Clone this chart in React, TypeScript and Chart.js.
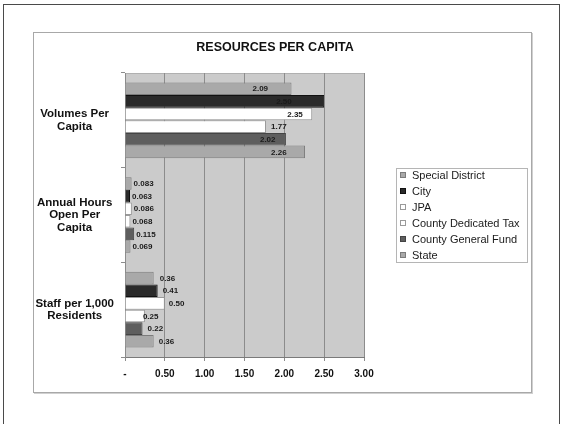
import React, { useEffect, useRef } from "react";
import { Chart, registerables } from "chart.js";

Chart.register(...registerables);

const chartTitle = "RESOURCES PER CAPITA";
const categories = [
  ["Volumes Per", "Capita"],
  ["Annual Hours", "Open Per", "Capita"],
  ["Staff per 1,000", "Residents"],
];
const seriesNames = [
  "Special District",
  "City",
  "JPA",
  "County Dedicated Tax",
  "County General Fund",
  "State",
];
const specialDistrict = [2.09, 0.083, 0.36];
const city = [2.5, 0.063, 0.41];
const jpa = [2.35, 0.086, 0.5];
const countyDedicatedTax = [1.77, 0.068, 0.25];
const countyGeneralFund = [2.02, 0.115, 0.22];
const state = [2.26, 0.069, 0.36];
const labelDecimals = [2, 3, 2];
const xMin = 0;
const xMax = 3;
const xStep = 0.5;

const seriesValues = [specialDistrict, city, jpa, countyDedicatedTax, countyGeneralFund, state];
const fills = ["#a9a9a9", "#2a2a2a", "#ffffff", "#ffffff", "#5e5e5e", "#a9a9a9"];
const borders = ["#7c7c7c", "#111111", "#9a9a9a", "#9a9a9a", "#444444", "#7c7c7c"];
// pixel shifts of value labels relative to bar end (style only)
const labelShift = [
  [-39, -48, -25, 5, -26, -34],
  [2, 2, 2, 2, 2, 2],
  [6, 5, 4, -2, 5, 5],
];

const FONT = "'Liberation Sans', Arial, sans-serif";

const decorPlugin = {
  id: "decor",
  beforeDraw(chart: any) {
    const { ctx, chartArea } = chart;
    ctx.save();
    ctx.fillStyle = "#cbcbcb";
    ctx.fillRect(chartArea.left, chartArea.top, chartArea.right - chartArea.left, chartArea.bottom - chartArea.top);
    ctx.strokeStyle = "#b0b0b0";
    ctx.lineWidth = 1;
    ctx.beginPath();
    ctx.moveTo(chartArea.left, chartArea.top + 0.5);
    ctx.lineTo(chartArea.right, chartArea.top + 0.5);
    ctx.stroke();
    ctx.restore();
  },
  afterDraw(chart: any) {
    const { ctx } = chart;
    ctx.save();
    // title
    ctx.fillStyle = "#111";
    ctx.font = `bold 12.5px ${FONT}`;
    ctx.textAlign = "center";
    ctx.textBaseline = "middle";
    ctx.fillText(chartTitle, 241, 15);

    // value labels
    ctx.font = `bold 8px ${FONT}`;
    ctx.textAlign = "left";
    ctx.fillStyle = "#1a1a1a";
    chart.data.datasets.forEach((ds: any, di: number) => {
      const meta = chart.getDatasetMeta(di);
      meta.data.forEach((bar: any, ci: number) => {
        const v = ds.data[ci];
        const txt = v.toFixed(labelDecimals[ci]);
        ctx.fillText(txt, bar.x + labelShift[ci][di], bar.y + 0.5);
      });
    });

    // legend
    const lx = 362, ly = 135, lw = 131, lh = 94;
    ctx.fillStyle = "#ffffff";
    ctx.fillRect(lx, ly, lw, lh);
    ctx.strokeStyle = "#b5b5b5";
    ctx.lineWidth = 1;
    ctx.strokeRect(lx + 0.5, ly + 0.5, lw, lh);
    ctx.font = `11px ${FONT}`;
    ctx.textBaseline = "middle";
    chart.data.datasets.forEach((ds: any, i: number) => {
      const cy = 142 + i * 16;
      ctx.fillStyle = ds.backgroundColor;
      ctx.fillRect(366, cy - 3, 6, 6);
      ctx.strokeStyle = ds.borderColor;
      ctx.strokeRect(366.5, cy - 2.5, 5, 5);
      ctx.fillStyle = "#1a1a1a";
      ctx.fillText(ds.label, 378, cy + 0.5);
    });
    ctx.restore();
  },
};

export default function App() {
  const canvasRef = useRef<HTMLCanvasElement | null>(null);

  useEffect(() => {
    document.body.style.margin = "0";
    document.body.style.overflow = "hidden";
    const canvas = canvasRef.current;
    if (!canvas) return;
    const chart = new Chart(canvas, {
      type: "bar",
      data: {
        labels: categories,
        datasets: seriesNames.map((name, i) => ({
          label: name,
          data: seriesValues[i],
          backgroundColor: fills[i],
          borderColor: borders[i],
          borderWidth: 1,
          categoryPercentage: 0.8,
          barPercentage: 1.0,
        })),
      },
      options: {
        indexAxis: "y",
        animation: false,
        responsive: false,
        maintainAspectRatio: false,
        devicePixelRatio: 1,
        layout: { padding: { top: 40, right: 167, bottom: 0, left: 0 } },
        plugins: {
          legend: { display: false },
          title: { display: false },
          tooltip: { enabled: false },
        },
        scales: {
          x: {
            type: "linear",
            min: xMin,
            max: xMax,
            ticks: {
              stepSize: xStep,
              padding: 7,
              color: "#111",
              font: { family: FONT, size: 10, weight: "bold" },
              callback: (v: any) => (Number(v) === 0 ? "-" : Number(v).toFixed(2)),
            },
            grid: { color: "#8c8c8c", tickColor: "#8c8c8c", tickLength: 4, lineWidth: 1 },
            border: { color: "#7a7a7a" },
            afterFit: (scale: any) => {
              scale.height = 35;
            },
          },
          y: {
            type: "category",
            ticks: {
              crossAlign: "center",
              padding: 7,
              color: "#111",
              font: { family: FONT, size: 11.5, weight: "bold", lineHeight: 1.1 },
            },
            grid: { color: "rgba(0,0,0,0)", tickColor: "#8c8c8c", tickLength: 4, drawOnChartArea: false },
            border: { color: "#8c8c8c" },
            afterFit: (scale: any) => {
              scale.width = 91;
            },
          },
        },
      } as any,
      plugins: [decorPlugin],
    });
    return () => chart.destroy();
  }, []);

  return (
    <div style={{ position: "absolute", left: 0, top: 0, width: 564, height: 424, background: "#fff", overflow: "hidden" }}>
      <div
        style={{
          position: "absolute",
          left: 3,
          top: 4,
          width: 557,
          height: 430,
          border: "1px solid #4a4a4a",
          boxSizing: "border-box",
        }}
      />
      <div
        style={{
          position: "absolute",
          left: 33,
          top: 32,
          width: 499,
          height: 361,
          border: "1px solid #a8a8a8",
          boxShadow: "1px 1px 0 #d0d0d0",
          boxSizing: "border-box",
          background: "#fff",
        }}
      >
        <canvas ref={canvasRef} width={497} height={359} style={{ display: "block", width: 497, height: 359 }} />
      </div>
    </div>
  );
}
